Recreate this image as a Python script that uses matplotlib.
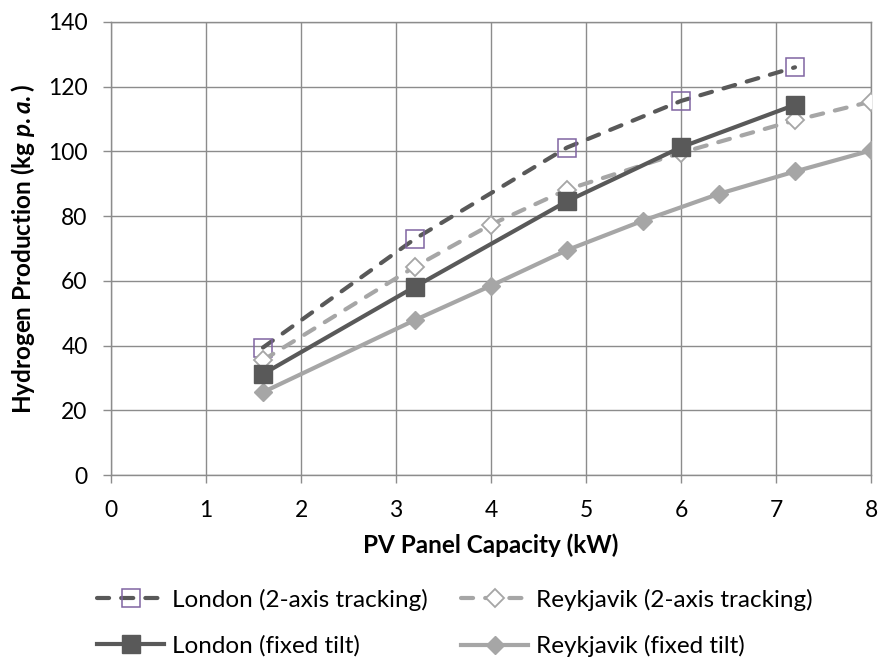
import matplotlib
matplotlib.use("Agg")
import matplotlib.pyplot as plt

plt.rcParams['font.family'] = ['Lato', 'DejaVu Sans']
plt.rcParams['mathtext.fontset'] = 'custom'
plt.rcParams['mathtext.it'] = 'Lato:italic:bold'
plt.rcParams['mathtext.rm'] = 'Lato:bold'

# Data
x_london_2axis = [1.6, 3.2, 4.8, 6.0, 7.2]
y_london_2axis = [39.4, 73.0, 101.2, 115.6, 126.0]
x_reyk_2axis = [1.6, 3.2, 4.0, 4.8, 6.0, 7.2, 8.0]
y_reyk_2axis = [35.5, 64.4, 77.4, 88.2, 99.6, 109.6, 115.4]
x_london_fixed = [1.6, 3.2, 4.8, 6.0, 7.2]
y_london_fixed = [31.2, 58.2, 84.6, 101.3, 114.4]
x_reyk_fixed = [1.6, 3.2, 4.0, 4.8, 5.6, 6.4, 7.2, 8.0]
y_reyk_fixed = [25.6, 47.9, 58.5, 69.5, 78.6, 86.9, 93.8, 100.3]
labels = ['London (2-axis tracking)', 'Reykjavik (2-axis tracking)',
          'London (fixed tilt)', 'Reykjavik (fixed tilt)']
x_ticks = [0, 1, 2, 3, 4, 5, 6, 7, 8]
y_ticks = [0, 20, 40, 60, 80, 100, 120, 140]

dark = '#595959'
light = '#A6A6A6'
purple = '#8064A2'
grid_c = '#8C8C8C'

W, H = 880, 659
L, R, T, B = 111, 871, 22, 475

fig = plt.figure(figsize=(W / 100, H / 100), dpi=100)
ax = fig.add_axes([L / W, 1 - B / H, (R - L) / W, (B - T) / H])

dash = (2.9, 2.9)
l1, = ax.plot(x_london_2axis, y_london_2axis, color=dark, lw=3.0, dashes=dash,
              dash_capstyle='round',
              marker='s', ms=13.5, mfc='none', mec=purple, mew=1.1,
              label=labels[0], zorder=3)
l2, = ax.plot(x_reyk_2axis, y_reyk_2axis, color=light, lw=3.0, dashes=dash,
              dash_capstyle='round',
              marker='D', ms=9.5, mfc='white', mec=light, mew=1.3,
              label=labels[1], zorder=3)
l3, = ax.plot(x_london_fixed, y_london_fixed, color=dark, lw=3.0,
              marker='s', ms=12.7, mfc=dark, mec=dark,
              label=labels[2], zorder=4)
l4, = ax.plot(x_reyk_fixed, y_reyk_fixed, color=light, lw=3.0,
              marker='D', ms=9.5, mfc=light, mec=light,
              label=labels[3], zorder=3)

ax.set_xlim(0, 8)
ax.set_ylim(0, 140)
ax.set_xticks(x_ticks)
ax.set_yticks(y_ticks)
ax.grid(True, color=grid_c, lw=1.0)
ax.set_axisbelow(True)
for s in ax.spines.values():
    s.set_color(grid_c)
    s.set_linewidth(1.0)
ax.tick_params(axis='both', colors=grid_c, labelcolor='black', labelsize=16.5,
               length=5.8, width=1.0, direction='out')
ax.tick_params(axis='x', pad=12.5)
ax.tick_params(axis='y', pad=11.0)

ax.set_xlabel('PV Panel Capacity (kW)', fontsize=17.5, fontweight='bold')
ax.set_ylabel(r'Hydrogen Production (kg $\mathit{p.a.}$)', fontsize=17.5,
              fontweight='bold')
ax.xaxis.set_label_coords(0.5, (B - 533) / (B - T))
ax.yaxis.set_label_coords((37 - L) / (R - L), 0.5)

leg = fig.legend(handles=[l1, l3, l2, l4],
                 labels=[labels[0], labels[2], labels[1], labels[3]],
                 ncol=2, frameon=False, fontsize=17.5, loc='center',
                 bbox_to_anchor=(455 / W, 1 - 623 / H), handlelength=2.76,
                 columnspacing=1.37, labelspacing=1.0, handletextpad=0.33,
                 borderpad=0.0)

fig.savefig('out.png', dpi=100)
